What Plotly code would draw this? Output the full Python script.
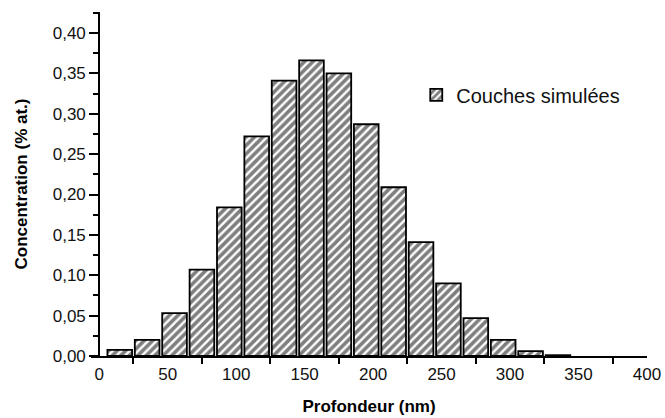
import plotly.graph_objects as go

# depth (nm) at bin centre, concentration (% at.)
profondeur = [15, 35, 55, 75, 95, 115, 135, 155, 175, 195, 215, 235, 255, 275, 295, 315, 335]
concentration = [0.0075, 0.020, 0.053, 0.107, 0.184, 0.272, 0.341, 0.366, 0.350,
                 0.287, 0.209, 0.141, 0.090, 0.047, 0.020, 0.006, 0.001]

x_ticks = [0, 50, 100, 150, 200, 250, 300, 350, 400]

fig = go.Figure()
fig.add_trace(go.Bar(
    x=profondeur,
    y=concentration,
    width=18,
    name="Couches simulées",
    marker=dict(
        color="white",
        line=dict(color="black", width=1.8),
        pattern=dict(shape="/", fgcolor="black", bgcolor="white",
                     size=6, solidity=0.6),
    ),
))

fig.update_layout(
    width=665,
    height=418,
    margin=dict(l=91, r=18, t=12, b=62),
    paper_bgcolor="white",
    plot_bgcolor="white",
    separators=",.",
    font=dict(family="Liberation Sans, Arial", size=16, color="#111"),
    showlegend=True,
    legend=dict(
        x=0.585, y=0.759, xanchor="left", yanchor="middle",
        font=dict(size=20, color="#111"),
        bgcolor="rgba(0,0,0,0)",
    ),
)

fig.update_xaxes(
    range=[-6, 400],
    automargin=False,
    tickmode="array",
    tickvals=x_ticks,
    ticks="outside",
    ticklen=2,
    tickcolor="rgba(0,0,0,0)",
    minor=dict(tickmode="linear", tick0=25, dtick=50, ticks="outside",
               ticklen=6, tickwidth=1.5, tickcolor="black"),
    showline=True,
    linecolor="black",
    linewidth=2,
    showgrid=False,
    zeroline=False,
    tickfont=dict(size=17),
    title=dict(text="<b>Profondeur (nm)</b>", font=dict(size=17, color="black"), standoff=17),
)

fig.update_yaxes(
    range=[0, 0.426],
    anchor="free",
    position=6 / 406,
    automargin=False,
    tickmode="linear",
    tick0=0,
    dtick=0.05,
    tickformat=".2f",
    ticks="outside",
    ticklen=9,
    tickwidth=1.5,
    tickcolor="black",
    minor=dict(tickmode="linear", tick0=0.025, dtick=0.05, ticks="outside",
               ticklen=5, tickwidth=1.5, tickcolor="black"),
    showline=True,
    linecolor="black",
    linewidth=2,
    showgrid=False,
    zeroline=False,
    tickfont=dict(size=17),
    title=dict(text="<b>Concentration (% at.)</b>", font=dict(size=17, color="black"), standoff=20),
)

# drop the default page margin so the figure fills the window, hide the modebar
fig.write_html(
    "out.html",
    config={"displayModeBar": False},
    post_script="document.body.style.margin='0';document.body.style.overflow='hidden';",
)
